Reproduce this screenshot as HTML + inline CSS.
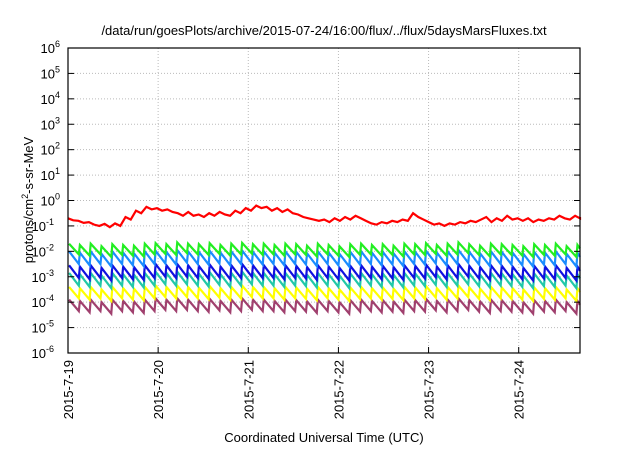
<!DOCTYPE html>
<html><head><meta charset="utf-8"><style>
body{margin:0;background:#fff;width:640px;height:448px;overflow:hidden}
svg{font-family:"Liberation Sans",sans-serif}
</style></head><body>
<svg id="c" width="640" height="448">
<text x="324" y="35" font-size="13" text-anchor="middle">/data/run/goesPlots/archive/2015-07-24/16:00/flux/../flux/5daysMarsFluxes.txt</text>
<text x="324" y="442" font-size="13" text-anchor="middle">Coordinated Universal Time (UTC)</text>
<text transform="translate(33,200) rotate(-90)" font-size="13" text-anchor="middle">protons/cm<tspan dy="-5" font-size="9">2</tspan><tspan dy="5">-s-sr-MeV</tspan></text>
<g id="grid"></g><g id="series"></g><g id="axes"></g>
</svg>
<script>
const xDays=["2015-7-19","2015-7-20","2015-7-21","2015-7-22","2015-7-23","2015-7-24"];
const yExps=[-6,-5,-4,-3,-2,-1,0,1,2,3,4,5,6];
const tMax=5.68;
const period=0.12;
const redLog=[-0.7,-0.78,-0.8,-0.88,-0.85,-0.95,-1.0,-0.92,-1.05,-0.9,-1.0,-0.65,-0.75,-0.4,-0.5,-0.25,-0.35,-0.3,-0.4,-0.35,-0.45,-0.5,-0.6,-0.45,-0.6,-0.55,-0.65,-0.5,-0.6,-0.45,-0.55,-0.6,-0.4,-0.5,-0.3,-0.4,-0.2,-0.3,-0.25,-0.4,-0.3,-0.45,-0.35,-0.5,-0.55,-0.65,-0.7,-0.75,-0.8,-0.75,-0.85,-0.7,-0.8,-0.65,-0.75,-0.6,-0.7,-0.8,-0.9,-0.95,-0.85,-0.9,-0.8,-0.85,-0.75,-0.8,-0.5,-0.65,-0.75,-0.85,-0.95,-0.9,-1.0,-0.9,-0.95,-0.85,-0.9,-0.8,-0.85,-0.75,-0.65,-0.85,-0.7,-0.8,-0.6,-0.75,-0.7,-0.8,-0.7,-0.85,-0.75,-0.8,-0.7,-0.75,-0.6,-0.7,-0.75,-0.6,-0.7,-0.65];
const greenPeak=[-1.7,-1.75,-1.7,-1.8,-1.72,-1.75,-1.78,-1.7,-1.68,-1.72,-1.65,-1.7,-1.72,-1.68,-1.75,-1.7,-1.67,-1.72,-1.7,-1.75,-1.7,-1.72,-1.78,-1.7,-1.75,-1.8,-1.72,-1.7,-1.75,-1.72,-1.78,-1.7,-1.72,-1.68,-1.75,-1.7,-1.65,-1.72,-1.78,-1.7,-1.72,-1.75,-1.8,-1.72,-1.75,-1.7,-1.8,-1.75];
const lblueePeak=[-2.0,-2.05,-2.0,-2.1,-2.0,-2.05,-2.08,-2.0,-1.98,-2.02,-1.95,-2.0,-2.02,-1.98,-2.05,-2.0,-1.97,-2.02,-2.0,-2.05,-2.0,-2.02,-2.08,-2.0,-2.05,-2.1,-2.02,-2.0,-2.05,-2.02,-2.08,-2.0,-2.02,-1.98,-2.05,-2.0,-1.95,-2.02,-2.08,-2.0,-2.02,-2.05,-2.1,-2.02,-2.05,-2.0,-2.1,-2.05];
const bluePeak=[-2.55,-2.6,-2.55,-2.65,-2.55,-2.6,-2.62,-2.55,-2.5,-2.55,-2.5,-2.55,-2.58,-2.52,-2.6,-2.55,-2.5,-2.55,-2.55,-2.6,-2.55,-2.57,-2.62,-2.55,-2.6,-2.65,-2.57,-2.55,-2.6,-2.57,-2.62,-2.55,-2.57,-2.52,-2.6,-2.55,-2.5,-2.57,-2.62,-2.55,-2.57,-2.6,-2.65,-2.57,-2.6,-2.55,-2.65,-2.6];
const tealPeak=[-2.85,-2.9,-2.85,-2.95,-2.85,-2.9,-2.92,-2.85,-2.8,-2.85,-2.8,-2.85,-2.88,-2.82,-2.9,-2.85,-2.8,-2.85,-2.85,-2.9,-2.85,-2.87,-2.92,-2.85,-2.9,-2.95,-2.87,-2.85,-2.9,-2.87,-2.92,-2.85,-2.87,-2.82,-2.9,-2.85,-2.8,-2.87,-2.92,-2.85,-2.87,-2.9,-2.95,-2.87,-2.9,-2.85,-2.95,-2.9];
const yellowPeak=[-3.4,-3.45,-3.4,-3.5,-3.4,-3.45,-3.47,-3.4,-3.35,-3.4,-3.35,-3.4,-3.43,-3.37,-3.45,-3.4,-3.35,-3.4,-3.4,-3.45,-3.4,-3.42,-3.47,-3.4,-3.45,-3.5,-3.42,-3.4,-3.45,-3.42,-3.47,-3.4,-3.42,-3.37,-3.45,-3.4,-3.35,-3.42,-3.47,-3.4,-3.42,-3.45,-3.5,-3.42,-3.45,-3.4,-3.5,-3.45];
const purplePeak=[-3.9,-3.95,-3.9,-4.0,-3.9,-3.95,-3.97,-3.9,-3.85,-3.9,-3.85,-3.9,-3.93,-3.87,-3.95,-3.9,-3.85,-3.9,-3.9,-3.95,-3.9,-3.92,-3.97,-3.9,-3.95,-4.0,-3.92,-3.9,-3.95,-3.92,-3.97,-3.9,-3.92,-3.87,-3.95,-3.9,-3.85,-3.92,-3.97,-3.9,-3.92,-3.95,-4.0,-3.92,-3.95,-3.9,-4.0,-3.95];
const drops=[0.42,0.5,0.5,0.5,0.45,0.45];
const L=68,R=580,T=48,B=353;
const xs=t=>L+t*(R-L)/tMax;
const ys=e=>B-(e+6)*(B-T)/12;
const NS="http://www.w3.org/2000/svg";
function mk(tag,at,parent){const e=document.createElementNS(NS,tag);for(const k in at)e.setAttribute(k,at[k]);parent.appendChild(e);return e;}
const grid=document.getElementById('grid'),axes=document.getElementById('axes'),ser=document.getElementById('series');
yExps.forEach(e=>{const y=ys(e);
 if(e>-6&&e<6){const g=mk('line',{x1:L,x2:R,y1:y,y2:y,stroke:'#bbb','stroke-dasharray':'1,2'},grid);
 
 }
 const t1=mk('line',{x1:L,x2:L+6,y1:y,y2:y,stroke:'#000'},axes);
 
 
 mk('line',{x1:R-6,x2:R,y1:y,y2:y,stroke:'#000'},axes);
 const tx=mk('text',{x:L-8,y:y+5,'font-size':13,'text-anchor':'end'},axes);
 
 
 tx.innerHTML='10<tspan dy="-6" font-size="9">'+e+'</tspan>';
 const w=e<0?16:10;tx.setAttribute('x',L-8-w+10);
});
xDays.forEach((d,i)=>{const x=xs(i);
 if(i>0){const g=mk('line',{x1:x,x2:x,y1:T,y2:B,stroke:'#bbb','stroke-dasharray':'1,2'},grid);
 
 }
 mk('line',{x1:x,x2:x,y1:B,y2:B-6,stroke:'#000'},axes);
 const tx=mk('text',{transform:`translate(${x+5},360) rotate(-90)`,'font-size':13,'text-anchor':'end'},axes);
 
 
 tx.textContent=d;
});
const fr=mk('rect',{x:L,y:T,width:R-L,height:B-T,fill:'none',stroke:'#000','stroke-width':1.2},axes);


function clampT(t){return Math.min(t,tMax);}
const saw=[[greenPeak,'#22ee22','green-series'],[lblueePeak,'#1a8cff','light-blue-series'],[bluePeak,'#1010e0','blue-series'],[tealPeak,'#22c8a8','teal-series'],[yellowPeak,'#ffff00','yellow-series'],[purplePeak,'#a0406e','purple-series']];
saw.slice().reverse().forEach(([arr,col,name])=>{
 const di=saw.findIndex(s=>s[2]===name);const drop=drops[di];
 let pts=[];
 arr.forEach((p,i)=>{const t0=i*period;if(t0>tMax)return;
  if(i>0)pts.push([xs(t0),ys(arr[i-1]-drop)]);
  pts.push([xs(clampT(t0+0.012)),ys(p)]);
  const t1=clampT(t0+period);pts.push([xs(t1),ys(p-drop*(t1-t0)/period)]);
 });
 const pl=mk('polyline',{points:pts.map(p=>p.join(',')).join(' '),fill:'none',stroke:col,'stroke-width':2.2,'stroke-linejoin':'miter'},ser);
 
 
});
const rp=redLog.map((v,i)=>[xs(clampT(i*0.058)),ys(v)]);
const rl=mk('polyline',{points:rp.map(p=>p.join(',')).join(' '),fill:'none',stroke:'#ff0000','stroke-width':2.2},ser);


</script>
</body></html>
